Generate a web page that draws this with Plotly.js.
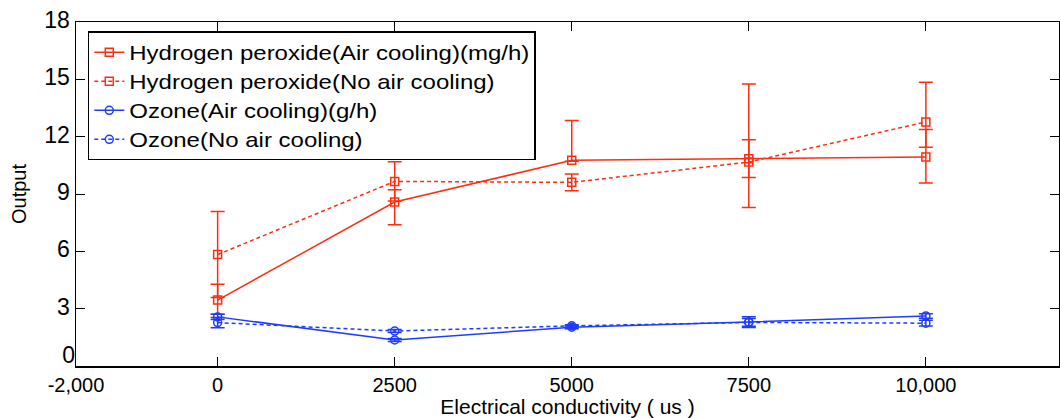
<!DOCTYPE html>
<html>
<head>
<meta charset="utf-8">
<script src="https://cdn.plot.ly/plotly-3.0.1.min.js"></script>
<style>
  html, body { margin: 0; padding: 0; background: #fff; }
  #chart { width: 1060px; height: 418px; }
  .legendtext { transform-box: fill-box; transform-origin: 0 50%; transform: scaleX(1.2); }
</style>
</head>
<body>
<div id="chart"></div>
<script>
// ---- data ----
const conductivity = [0, 2500, 5000, 7500, 10000];

const h2o2AirName = 'Hydrogen peroxide(Air cooling)(mg/h)';
const h2o2AirVal = [3.45, 8.58, 10.76, 10.85, 10.94];
const h2o2AirPlus = [0.83, 0.64, 2.08, 0.99, 1.43];
const h2o2AirMinus = [0.74, 1.19, 0.05, 0.99, 1.37];

const h2o2NoName = 'Hydrogen peroxide(No air cooling)';
const h2o2NoVal = [5.83, 9.66, 9.61, 10.67, 12.77];
const h2o2NoPlus = [2.26, 1.03, 0.44, 4.09, 2.08];
const h2o2NoMinus = [2.25, 1.03, 0.44, 2.37, 1.33];

const o3AirName = 'Ozone(Air cooling)(g/h)';
const o3AirVal = [2.57, 1.36, 2.03, 2.30, 2.62];
const o3AirErr = [0.14, 0.08, 0.08, 0.28, 0.12];

const o3NoName = 'Ozone(No air cooling)';
const o3NoVal = [2.27, 1.83, 2.10, 2.28, 2.24];
const o3NoErr = [0.27, 0.08, 0.06, 0.2, 0.15];

const xTickVals = [-2000, 0, 2500, 5000, 7500, 10000];
const xTickText = ['-2,000', '0', '2500', '5000', '7500', '10,000'];
const yTickVals = [0, 3, 6, 9, 12, 15, 18];
const yTickText = ['', '3', '6', '9', '12', '15', '18'];
const yZeroVal = [0];
const yZeroText = ['0'];

// ---- styles ----
const RED = 'rgb(255,45,15)';
const BLUE = 'rgb(30,60,255)';
const FONT = 'Arial, "Liberation Sans", sans-serif';

function trace(name, y, plus, minus, color, dash, symbol) {
  return {
    type: 'scatter', mode: 'lines+markers', name: name,
    x: conductivity, y: y,
    line: { color: color, width: 1.5, dash: dash },
    marker: { symbol: symbol, size: 8, color: color, line: { color: color, width: 1.5 } },
    error_y: {
      type: 'data', symmetric: false, array: plus, arrayminus: minus,
      color: color, thickness: 1.5, width: 7
    }
  };
}

const data = [
  trace(h2o2AirName, h2o2AirVal, h2o2AirPlus, h2o2AirMinus, RED, 'solid', 'square-open'),
  trace(h2o2NoName, h2o2NoVal, h2o2NoPlus, h2o2NoMinus, RED, '4px,3px', 'square-open'),
  trace(o3AirName, o3AirVal, o3AirErr, o3AirErr, BLUE, 'solid', 'circle-open'),
  trace(o3NoName, o3NoVal, o3NoErr, o3NoErr, BLUE, '4px,3px', 'circle-open'),
  { type: 'scatter', mode: 'none', x: [null], y: [null], yaxis: 'y2', showlegend: false, hoverinfo: 'skip' }
];

const layout = {
  width: 1060, height: 418,
  margin: { l: 76, r: 1, t: 22, b: 52, pad: 0 },
  paper_bgcolor: '#fff', plot_bgcolor: '#fff',
  font: { family: FONT, color: '#000', size: 20 },
  showlegend: true,
  legend: {
    x: 0.012, y: 0.973, xanchor: 'left', yanchor: 'top',
    bgcolor: '#fff', bordercolor: '#000', borderwidth: 1.5,
    font: { family: FONT, size: 20, color: '#000' },
    tracegroupgap: 0, itemwidth: 30
  },
  xaxis: {
    range: [-2000, 11880],
    tickvals: xTickVals, ticktext: xTickText,
    ticks: 'inside', ticklen: 9, tickwidth: 1, tickcolor: '#000',
    showline: true, linecolor: '#000', linewidth: 1.5, mirror: 'ticks',
    showgrid: false, zeroline: false,
    tickfont: { family: FONT, size: 20, color: '#000' },
    title: { text: 'Electrical conductivity ( us )', font: { family: FONT, size: 21, color: '#000' }, standoff: 0 }
  },
  yaxis: {
    range: [0, 18],
    tickvals: yTickVals, ticktext: yTickText,
    ticks: 'inside', ticklen: 9, tickwidth: 1, tickcolor: '#000',
    showline: true, linecolor: '#000', linewidth: 1.5, mirror: 'ticks',
    showgrid: false, zeroline: false, ticklabelshift: -2,
    tickfont: { family: FONT, size: 23, color: '#000' },
    title: { text: 'Output', font: { family: FONT, size: 20, color: '#000' }, standoff: 12 }
  },
  yaxis2: {
    range: [0, 18], overlaying: 'y', anchor: 'x', side: 'left',
    tickvals: yZeroVal, ticktext: yZeroText,
    ticks: '', showline: false, showgrid: false, zeroline: false,
    ticklabelshift: -11,
    tickfont: { family: FONT, size: 23, color: '#000' }
  }
};

Plotly.newPlot('chart', data, layout, { displayModeBar: false, staticPlot: true });
</script>
</body>
</html>
